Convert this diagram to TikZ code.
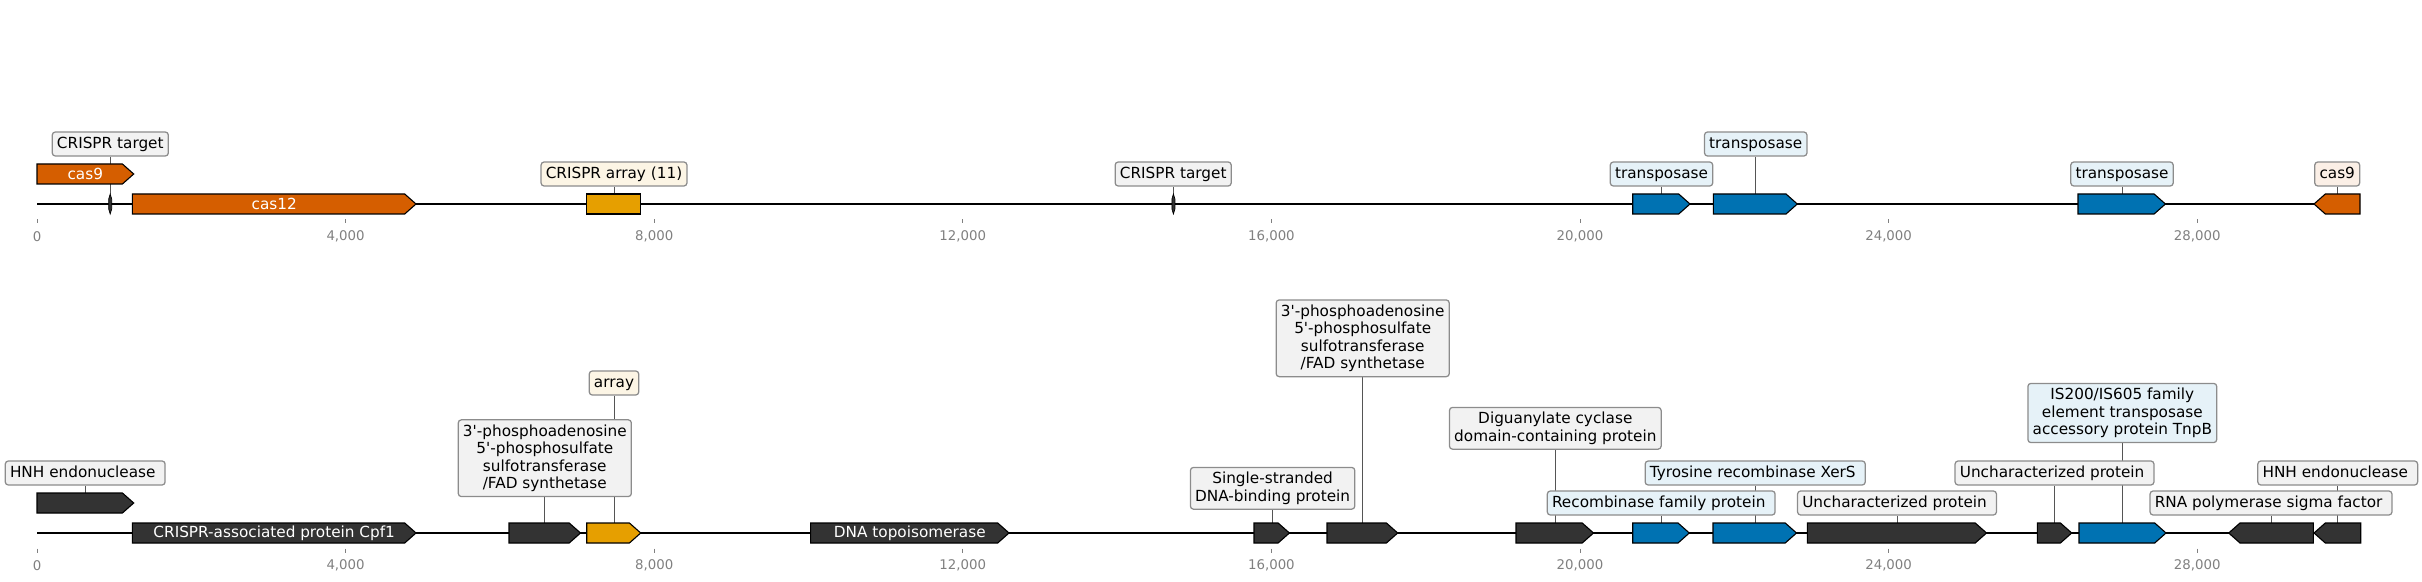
\documentclass[tikz,border=0pt]{standalone}
\usepackage{fontspec}
\setmainfont{DejaVu Sans}
\definecolor{corange}{HTML}{D55E00}
\definecolor{cyellow}{HTML}{E69F00}
\definecolor{cblue}{HTML}{0072B2}
\definecolor{cdark}{HTML}{333333}
\definecolor{lgray}{HTML}{F2F2F2}
\definecolor{lcream}{HTML}{FCF5E5}
\definecolor{lblue}{HTML}{E6F2F8}
\definecolor{lpeach}{HTML}{FBEFE6}
\definecolor{labborder}{HTML}{8C8C8C}
\definecolor{conncol}{HTML}{555555}
\definecolor{tickcol}{HTML}{808080}
\newcommand\labfont{\fontsize{11bp}{12.6bp}\selectfont}
\newcommand\tickfont{\fontsize{9.6bp}{11bp}\selectfont}
\newcommand\tsp{\hspace*{0.318em}}
\newcommand\apo{\textquotesingle}
\pgfdeclarelayer{bg}
\pgfdeclarelayer{mid}
\pgfsetlayers{bg,mid,main}
\newcommand\fwdarrow[4]{%
  \filldraw[feat, fill=#4] (#1,#3-10) -- (#2-11.3,#3-10) -- (#2,#3) -- (#2-11.3,#3+10) -- (#1,#3+10) -- cycle;}
\newcommand\revarrow[4]{%
  \filldraw[feat, fill=#4] (#2,#3-10) -- (#1+11.3,#3-10) -- (#1,#3) -- (#1+11.3,#3+10) -- (#2,#3+10) -- cycle;}
\newcommand\rectfeat[4]{%
  \filldraw[feat, fill=#4] (#1,#3-10) rectangle (#2,#3+10);}
\newcommand\marker[2]{%
  \filldraw[fill=cdark, draw=black, line width=0.5bp] (#1,#2-10) -- (#1+1.5,#2-5) -- (#1+1.5,#2+5) -- (#1,#2+10) -- (#1-1.5,#2+5) -- (#1-1.5,#2-5) -- cycle;}
\begin{document}
\begin{tikzpicture}[x=0.72bp,y=-0.72bp,
  feat/.style={draw=black, line width=0.8bp},
  lab/.style={draw=labborder, line width=0.9bp, rounded corners=2.2bp, inner xsep=3.4bp, inner ysep=3.4bp, font=\labfont, align=center},
  labone/.style={lab, text height=8.8bp, text depth=1.7bp},
  labtwo/.style={lab, minimum height=29.9bp},
  labthree/.style={lab, minimum height=42.5bp},
  labfour/.style={lab, minimum height=55.1bp},
  conn/.style={draw=conncol, line width=0.72bp},
  backbone/.style={draw=black, line width=1.6bp},
  tickm/.style={draw=tickcol, line width=0.72bp},
  ticklab/.style={font=\tickfont, text=tickcol, inner sep=0pt},
  intext/.style={font=\labfont, text=white, inner sep=0pt}]
\useasboundingbox (0,0) rectangle (2422,582);

% ---------------- backbones and ticks ----------------
\begin{pgfonlayer}{bg}
\coordinate (b1s) at (37,204);
\coordinate (b1e) at (2360,204);
\coordinate (b2s) at (37,533);
\coordinate (b2e) at (2360.7,533);
\draw[backbone] (b1s) -- (b1e);
\draw[backbone] (b2s) -- (b2e);
\foreach \k/\t in {0/0,4/{4,000},8/{8,000},12/{12,000},16/{16,000},20/{20,000},24/{24,000},28/{28,000}}{
  \draw[tickm] (37+\k*77.15,219.5) -- (37+\k*77.15,223.5);
  \node[ticklab] (ta\k) at (37+\k*77.15,236.7) {\t};
  \draw[tickm] (37+\k*77.15,548.5) -- (37+\k*77.15,552.5);
  \node[ticklab] (tb\k) at (37+\k*77.15,565.7) {\t};
}
\end{pgfonlayer}

% ---------------- labels (row 1) ----------------
\node[labone, fill=lgray] (Lct1) at (110.3,144) {CRISPR target};
\node[labone, fill=lcream] (Larr1) at (614,174) {CRISPR array (11)};
\node[labone, fill=lgray] (Lct2) at (1173.2,174) {CRISPR target};
\node[labone, fill=lblue] (Ltp1) at (1661.5,174) {transposase};
\node[labone, fill=lblue] (Ltp2) at (1755.7,144) {transposase};
\node[labone, fill=lblue] (Ltp3) at (2122,174) {transposase};
\node[labone, fill=lpeach] (Lcas9) at (2337.2,174) {cas9};

% ---------------- labels (row 2) ----------------
\node[labone, fill=lgray] (Lhnh1) at (85.2,473) {HNH endonuclease\tsp};
\node[labfour, fill=lgray] (Lps1) at (544.8,458.2) {3\apo-phosphoadenosine\\5\apo-phosphosulfate\\sulfotransferase\\/FAD synthetase};
\node[labone, fill=lcream] (Larr2) at (614,383) {array};
\node[labtwo, fill=lgray] (Lssb) at (1272.6,488.3) {Single-stranded\\DNA-binding protein};
\node[labfour, fill=lgray] (Lps2) at (1362.7,338.3) {3\apo-phosphoadenosine\\5\apo-phosphosulfate\\sulfotransferase\\/FAD synthetase};
\node[labtwo, fill=lgray] (Ldgc) at (1555.3,428.3) {Diguanylate cyclase\\domain-containing protein};
\node[labone, fill=lblue] (Lrec) at (1661.2,503) {Recombinase family protein\tsp};
\node[labone, fill=lblue] (Ltyr) at (1755.2,473) {Tyrosine recombinase XerS\tsp};
\node[labone, fill=lgray] (Lunc1) at (1897,503) {Uncharacterized protein\tsp};
\node[labone, fill=lgray] (Lunc2) at (2054.5,473) {Uncharacterized protein\tsp};
\node[labthree, fill=lblue] (Lis) at (2122.3,413) {IS200/IS605 family\\element transposase\\accessory protein TnpB};
\node[labone, fill=lgray] (Lrna) at (2271,503) {RNA polymerase sigma factor\tsp};
\node[labone, fill=lgray] (Lhnh2) at (2337.7,473) {HNH endonuclease\tsp};

% ---------------- connector end points (feature tops) ----------------
\coordinate (Fct1) at (110.3,194);
\coordinate (Farr1) at (614,194);
\coordinate (Fct2) at (1173.2,194);
\coordinate (Ftp1) at (1661.5,194);
\coordinate (Ftp2) at (1755.7,194);
\coordinate (Ftp3) at (2122,194);
\coordinate (Fcas9) at (2337.2,194);
\coordinate (Fhnh1) at (85.2,493);
\coordinate (Fps1) at (544.8,523);
\coordinate (Farr2) at (614,523);
\coordinate (Fssb) at (1272.6,523);
\coordinate (Fps2) at (1362.7,523);
\coordinate (Fdgc) at (1555.3,523);
\coordinate (Frec) at (1661.2,523);
\coordinate (Ftyr) at (1755.2,523);
\coordinate (Func1) at (1897,523);
\coordinate (Func2) at (2054.5,523);
\coordinate (Fis) at (2122.3,523);
\coordinate (Frna) at (2271,523);
\coordinate (Fhnh2) at (2337.7,523);

\begin{pgfonlayer}{bg}
\foreach \n in {ct1,arr1,ct2,tp1,tp2,tp3,cas9,hnh1,ps1,arr2,ssb,ps2,dgc,rec,tyr,unc1,unc2,is,rna,hnh2}{
  \draw[conn] (L\n.south) -- (F\n);
}
\end{pgfonlayer}

% ---------------- features ----------------
\begin{pgfonlayer}{mid}
% row 1
\fwdarrow{37}{133.7}{174}{corange}
\node[intext] (tcas9) at (85.3,174) {cas9};
\marker{110.2}{204}
\fwdarrow{132.4}{416}{204}{corange}
\node[intext] (tcas12) at (274.2,204) {cas12};
\rectfeat{586.7}{640.7}{204}{cyellow}
\marker{1173.4}{204}
\fwdarrow{1632.7}{1690}{204}{cblue}
\fwdarrow{1713.3}{1797.3}{204}{cblue}
\fwdarrow{2078}{2165.4}{204}{cblue}
\revarrow{2314}{2360}{204}{corange}
% row 2
\fwdarrow{37}{133.7}{503}{cdark}
\fwdarrow{132.4}{416}{533}{cdark}
\node[intext] (tcpf1) at (274.2,533) {CRISPR-associated protein Cpf1};
\fwdarrow{509}{580.5}{533}{cdark}
\fwdarrow{586.7}{640.7}{533}{cyellow}
\fwdarrow{810.6}{1009}{533}{cdark}
\node[intext] (ttopo) at (909.8,533) {DNA topoisomerase};
\fwdarrow{1254}{1289.4}{533}{cdark}
\fwdarrow{1327}{1397.7}{533}{cdark}
\fwdarrow{1516}{1593.5}{533}{cdark}
\fwdarrow{1632.7}{1689.3}{533}{cblue}
\fwdarrow{1713}{1796.5}{533}{cblue}
\fwdarrow{1807.3}{1986.5}{533}{cdark}
\fwdarrow{2037.3}{2071.7}{533}{cdark}
\fwdarrow{2079}{2166}{533}{cblue}
\revarrow{2228.7}{2313.3}{533}{cdark}
\revarrow{2314}{2360.7}{533}{cdark}
\end{pgfonlayer}
\end{tikzpicture}
\end{document}
